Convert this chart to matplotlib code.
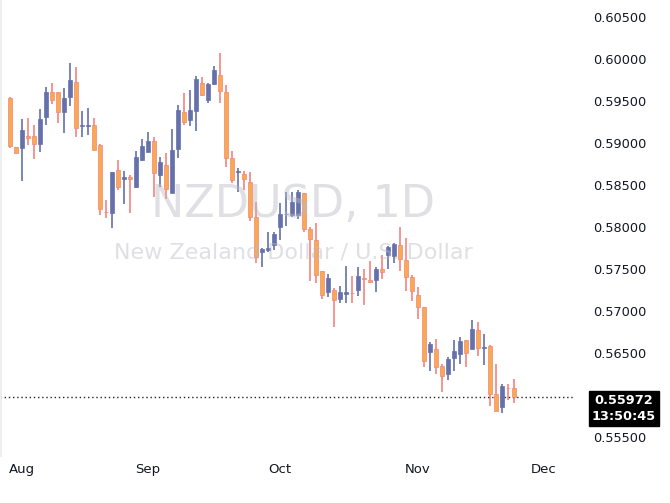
import numpy as np
import matplotlib.pyplot as plt

# daily candles (open, high, low, close)
opens = [0.59532, 0.58948, 0.58936, 0.59079, 0.59079, 0.58992, 0.59313, 0.59607, 0.59603, 0.59365,
         0.59551, 0.59722, 0.59208, 0.59208, 0.59210, 0.58972, 0.58177, 0.58163, 0.58675, 0.58567,
         0.58595, 0.58472, 0.58798, 0.58897, 0.59020, 0.58623, 0.58734, 0.58409, 0.58924, 0.59365,
         0.59270, 0.59385, 0.59710, 0.59512, 0.59698, 0.59809, 0.59611, 0.58817, 0.58657, 0.58627,
         0.58532, 0.58115, 0.57698, 0.57726, 0.57786, 0.58004, 0.58153, 0.58143, 0.58143, 0.58401,
         0.57977, 0.57846, 0.57473, 0.57227, 0.57247, 0.57139, 0.57207, 0.57213, 0.57254, 0.57393,
         0.57370, 0.57370, 0.57500, 0.57671, 0.57659, 0.57782, 0.57604, 0.57409, 0.57191, 0.57044,
         0.56516, 0.56544, 0.56346, 0.56255, 0.56445, 0.56493, 0.56651, 0.56552, 0.56770, 0.56562,
         0.56580, 0.56013, 0.55862, 0.56082, 0.56080]
highs = [0.59551, 0.58948, 0.59286, 0.59294, 0.59214, 0.59405, 0.59671, 0.59710, 0.59603, 0.59651,
         0.59948, 0.59901, 0.59381, 0.59413, 0.59294, 0.58988, 0.58321, 0.58651, 0.58798, 0.58667,
         0.58623, 0.58905, 0.59044, 0.59131, 0.59075, 0.58829, 0.58885, 0.59163, 0.59452, 0.59591,
         0.59631, 0.59801, 0.59782, 0.59710, 0.59917, 0.60067, 0.59690, 0.58909, 0.58702, 0.58667,
         0.58659, 0.58302, 0.57746, 0.57936, 0.57944, 0.58290, 0.58421, 0.58421, 0.58441, 0.58401,
         0.58004, 0.58044, 0.57473, 0.57441, 0.57278, 0.57298, 0.57536, 0.57417, 0.57520, 0.57496,
         0.57600, 0.57520, 0.57667, 0.57774, 0.57814, 0.57996, 0.57865, 0.57425, 0.57282, 0.57052,
         0.56628, 0.56671, 0.56370, 0.56457, 0.56655, 0.56695, 0.56651, 0.56893, 0.56866, 0.56731,
         0.56596, 0.56370, 0.56132, 0.56132, 0.56191]
lows = [0.58936, 0.58877, 0.58552, 0.58976, 0.58805, 0.58897, 0.59214, 0.59464, 0.59242, 0.59123,
        0.59440, 0.59075, 0.59075, 0.59095, 0.58917, 0.58143, 0.58103, 0.57992, 0.58440, 0.58274,
        0.58171, 0.58460, 0.58790, 0.58897, 0.58361, 0.58480, 0.58329, 0.58401, 0.58817, 0.59210,
        0.59202, 0.59147, 0.59559, 0.59480, 0.59690, 0.59480, 0.58718, 0.58528, 0.58417, 0.58440,
        0.58071, 0.57575, 0.57528, 0.57698, 0.57726, 0.57846, 0.58016, 0.58115, 0.58096, 0.57945,
        0.57362, 0.57330, 0.57139, 0.57171, 0.56814, 0.57100, 0.57100, 0.57100, 0.57179, 0.57072,
        0.57338, 0.57231, 0.57377, 0.57500, 0.57576, 0.57481, 0.57243, 0.57123, 0.56909, 0.56338,
        0.56290, 0.56247, 0.56040, 0.56179, 0.56290, 0.56370, 0.56330, 0.56544, 0.56465, 0.56354,
        0.55870, 0.55806, 0.55790, 0.55941, 0.55909]
closes = [0.58964, 0.58877, 0.59155, 0.59055, 0.58992, 0.59286, 0.59607, 0.59516, 0.59365, 0.59532,
          0.59746, 0.59174, 0.59212, 0.59212, 0.58917, 0.58210, 0.58173, 0.58651, 0.58472, 0.58595,
          0.58567, 0.58829, 0.58964, 0.59024, 0.58639, 0.58774, 0.58448, 0.58913, 0.59393, 0.59246,
          0.59393, 0.59762, 0.59567, 0.59702, 0.59869, 0.59615, 0.58817, 0.58560, 0.58661, 0.58567,
          0.58115, 0.57647, 0.57738, 0.57746, 0.57917, 0.58155, 0.58157, 0.58294, 0.58417, 0.57973,
          0.57854, 0.57425, 0.57187, 0.57393, 0.57127, 0.57227, 0.57223, 0.57209, 0.57417, 0.57377,
          0.57350, 0.57500, 0.57461, 0.57758, 0.57798, 0.57616, 0.57401, 0.57235, 0.57044, 0.56401,
          0.56612, 0.56330, 0.56231, 0.56425, 0.56520, 0.56643, 0.56504, 0.56782, 0.56556, 0.56566,
          0.56009, 0.55806, 0.56104, 0.56078, 0.55972]

month_labels = ["Aug", "Sep", "Oct", "Nov", "Dec"]
month_idx = [2, 23, 45, 68, 89]
# 0.56000 sits under the last-price tag, so it is left out
price_ticks = [0.555, 0.565, 0.57, 0.575, 0.58, 0.585, 0.59, 0.595, 0.6, 0.605]
last_price = 0.55972
countdown = "13:50:45"

BULL = "#6471ab"
BEAR_FILL = "#f9a94f"
BEAR_EDGE = "#f3837e"

fig = plt.figure(figsize=(6.7, 5.03), dpi=100)
ax = fig.add_axes([0, 48 / 503, 575 / 670, 455 / 503])

x = np.arange(len(opens))
for i in x:
    o, h, l, c = opens[i], highs[i], lows[i], closes[i]
    up = c >= o
    wick = BULL if up else BEAR_EDGE
    ax.vlines(i, l, h, color=wick, linewidth=1.2, zorder=2)
    bottom = min(o, c)
    height = max(abs(c - o), 0.00004)
    ax.bar(i, height, bottom=bottom, width=0.72,
           color=BULL if up else BEAR_FILL,
           edgecolor=BULL if up else BEAR_EDGE, linewidth=0.5, zorder=3)

ax.set_xlim(-10 / 6, 565 / 6)
ax.set_ylim(0.55286, 0.60702)

# watermark, drawn over the candles like the original
ax.text(0.51, 0.55, "NZDUSD, 1D", transform=ax.transAxes, ha="center", va="center",
        fontsize=32, color="#b8bac4", alpha=0.45, zorder=5)
ax.text(0.51, 0.446, "New Zealand Dollar / U.S. Dollar", transform=ax.transAxes,
        ha="center", va="center", fontsize=16, color="#b8bac4", alpha=0.45, zorder=5)

ax.axhline(last_price, color="#222222", linestyle=(0, (1, 2)), linewidth=1)

for s in ["top", "right", "bottom"]:
    ax.spines[s].set_visible(False)
ax.spines["left"].set_color("#eeeeee")
ax.spines["left"].set_linewidth(2)

ax.set_xticks(month_idx)
ax.set_xticklabels(month_labels)
ax.tick_params(axis="x", length=0, labelsize=9.5, colors="#131722", pad=6)

ax.yaxis.tick_right()
ax.set_yticks(price_ticks)
ax.set_yticklabels([f"{p:.5f}" for p in price_ticks])
ax.tick_params(axis="y", length=0, labelsize=9.3, colors="#131722", pad=13)
for lab in ax.get_yticklabels():
    lab.set_ha("left")
ax.grid(False)

# last price tag
ax.annotate(f"{last_price:.5f}\n{countdown}", xy=(1, last_price), xycoords=("axes fraction", "data"),
            xytext=(35, -8), textcoords="offset points", ha="center", va="center",
            fontsize=9.3, color="white", fontweight="bold", linespacing=1.25,
            bbox=dict(boxstyle="square,pad=0.22", fc="black", ec="black"),
            annotation_clip=False)

fig.savefig("out.png", dpi=100)
